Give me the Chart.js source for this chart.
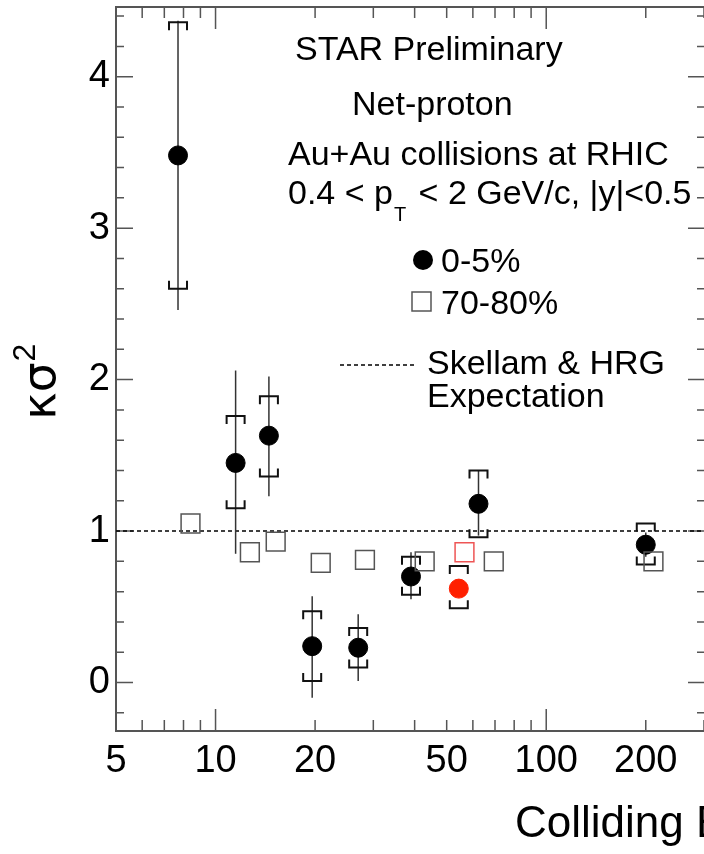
<!DOCTYPE html>
<html>
<head>
<meta charset="utf-8">
<script src="https://cdn.jsdelivr.net/npm/chart.js@4"></script>
<style>
  html, body { margin: 0; padding: 0; background: #fff; overflow: hidden; }
</style>
</head>
<body>
<canvas id="chart" width="704" height="854"></canvas>
<script>
// 0-5% central (black dots)
const energy = [7.7, 11.5, 14.5, 19.6, 27, 39, 62.4, 200];
const central = [3.48, 1.45, 1.63, 0.24, 0.23, 0.70, 1.18, 0.91];
const centralStatLo = [2.46, 0.85, 1.23, -0.10, 0.01, 0.55, 0.97, 0.83];
const centralStatHi = [4.37, 2.06, 2.02, 0.57, 0.45, 0.86, 1.40, 0.99];
const centralSysLo = [2.60, 1.15, 1.36, 0.01, 0.10, 0.58, 0.96, 0.78];
const centralSysHi = [4.36, 1.76, 1.89, 0.47, 0.36, 0.83, 1.40, 1.05];

// 54.4 GeV (red)
const energyRed = [54.4];
const centralRed = [0.62];
const centralRedSysLo = [0.49];
const centralRedSysHi = [0.77];
const periphEnergyRed = [56.6];
const periphRed = [0.86];

// 70-80% peripheral (open squares)
const periphEnergy = [8.4, 12.7, 15.2, 20.8, 28.3, 42.9, 69.4, 211];
const periph = [1.05, 0.86, 0.93, 0.79, 0.81, 0.80, 0.80, 0.80];

// Skellam & HRG expectation
const skellam = 1;

// axes
const xLabels = [5, 10, 20, 50, 100, 200];
const xMajor = [10, 100];
const xMinor = [6, 7, 8, 9, 20, 30, 40, 50, 60, 70, 80, 90, 200, 300];
const yMajor = [0, 1, 2, 3, 4];
const yMinor = [-0.2, 0.2, 0.4, 0.6, 0.8, 1.2, 1.4, 1.6, 1.8, 2.2, 2.4, 2.6, 2.8,
  3.2, 3.4, 3.6, 3.8, 4.2, 4.4];

const FONT = "'Liberation Sans', Arial, sans-serif";

const toPoints = (xs, ys) => xs.map((v, i) => ({ x: v, y: ys[i] }));

function drawErrors(ctx, x, y, xs, statLo, statHi, sysLo, sysHi) {
  xs.forEach((e, i) => {
    const px = x.getPixelForValue(e);
    if (statLo) {
      ctx.strokeStyle = "#333";
      ctx.lineWidth = 1.5;
      ctx.beginPath();
      ctx.moveTo(px, y.getPixelForValue(statLo[i]));
      ctx.lineTo(px, y.getPixelForValue(statHi[i]));
      ctx.stroke();
    }
    const top = y.getPixelForValue(sysHi[i]);
    const bot = y.getPixelForValue(sysLo[i]);
    ctx.strokeStyle = "#111";
    ctx.lineWidth = 2;
    ctx.beginPath();
    ctx.moveTo(px - 9, top + 8); ctx.lineTo(px - 9, top);
    ctx.lineTo(px + 9, top); ctx.lineTo(px + 9, top + 8);
    ctx.moveTo(px - 9, bot - 8); ctx.lineTo(px - 9, bot);
    ctx.lineTo(px + 9, bot); ctx.lineTo(px + 9, bot - 8);
    ctx.stroke();
  });
}

const decorations = {
  id: "decorations",
  beforeDatasetsDraw(chart) {
    const { ctx, chartArea: a } = chart;
    const { x, y } = chart.scales;
    ctx.save();

    // frame
    ctx.strokeStyle = "#555";
    ctx.lineWidth = 2;
    ctx.beginPath();
    ctx.moveTo(a.right + 2, a.top); ctx.lineTo(a.left, a.top);
    ctx.lineTo(a.left, a.bottom); ctx.lineTo(a.right + 2, a.bottom);
    ctx.stroke();

    // ticks, pointing inward
    ctx.lineWidth = 1.5;
    ctx.beginPath();
    yMajor.forEach(v => {
      const py = y.getPixelForValue(v);
      ctx.moveTo(a.left, py); ctx.lineTo(a.left + 17, py);
      ctx.moveTo(a.right, py); ctx.lineTo(a.right - 16, py);
    });
    yMinor.forEach(v => {
      const py = y.getPixelForValue(v);
      ctx.moveTo(a.left, py); ctx.lineTo(a.left + 8, py);
      ctx.moveTo(a.right, py); ctx.lineTo(a.right - 7, py);
    });
    xMajor.forEach(v => {
      const px = x.getPixelForValue(v);
      ctx.moveTo(px, a.bottom); ctx.lineTo(px, a.bottom - 22);
      ctx.moveTo(px, a.top); ctx.lineTo(px, a.top + 22);
    });
    xMinor.forEach(v => {
      const px = x.getPixelForValue(v);
      ctx.moveTo(px, a.bottom); ctx.lineTo(px, a.bottom - 11);
      ctx.moveTo(px, a.top); ctx.lineTo(px, a.top + 11);
    });
    ctx.stroke();

    // expectation line
    const py1 = y.getPixelForValue(skellam);
    ctx.strokeStyle = "#000";
    ctx.lineWidth = 1.5;
    ctx.setLineDash([4, 3]);
    ctx.beginPath();
    ctx.moveTo(a.left, py1); ctx.lineTo(a.right, py1);
    ctx.stroke();
    ctx.setLineDash([]);

    // error bars
    drawErrors(ctx, x, y, energy, centralStatLo, centralStatHi, centralSysLo, centralSysHi);
    drawErrors(ctx, x, y, energyRed, null, null, centralRedSysLo, centralRedSysHi);
    ctx.restore();
  },
  afterDraw(chart) {
    const { ctx } = chart;
    ctx.save();
    ctx.fillStyle = "#000";
    ctx.textBaseline = "alphabetic";
    ctx.textAlign = "left";
    ctx.font = "34px " + FONT;
    ctx.fillText("STAR Preliminary", 295, 60);
    ctx.fillText("Net-proton", 352, 115);
    ctx.fillText("Au+Au collisions at RHIC", 288, 165);

    // 0.4 < pT < 2 GeV/c, |y|<0.5
    let tx = 288;
    ctx.fillText("0.4 < p", tx, 204);
    tx += ctx.measureText("0.4 < p").width;
    ctx.font = "20px " + FONT;
    ctx.fillText("T", tx + 1, 221);
    tx += ctx.measureText("T").width + 4;
    ctx.font = "34px " + FONT;
    ctx.fillText(" < 2 GeV/c, |y|<0.5", tx, 204);

    // legend
    ctx.beginPath();
    ctx.arc(423, 260, 10, 0, Math.PI * 2);
    ctx.fill();
    ctx.fillText("0-5%", 441, 272);
    ctx.strokeStyle = "#555";
    ctx.lineWidth = 1.5;
    ctx.strokeRect(412, 292, 19, 19);
    ctx.fillText("70-80%", 441, 314);
    ctx.strokeStyle = "#000";
    ctx.setLineDash([4, 3]);
    ctx.beginPath();
    ctx.moveTo(340, 365); ctx.lineTo(415, 365);
    ctx.stroke();
    ctx.setLineDash([]);
    ctx.fillText("Skellam & HRG", 427, 374);
    ctx.fillText("Expectation", 427, 407);

    // x title (cut at the right edge)
    ctx.font = "44px " + FONT;
    ctx.fillText("Colliding Energy", 515, 837);

    // y title
    ctx.translate(55, 420);
    ctx.rotate(-Math.PI / 2);
    ctx.font = "47px 'DejaVu Sans'";
    ctx.fillText("κσ", 0, 0);
    const w = ctx.measureText("κσ").width;
    ctx.font = "32px " + FONT;
    ctx.fillText("2", w + 1, -20);
    ctx.restore();
  }
};

new Chart(document.getElementById("chart"), {
  type: "scatter",
  data: {
    datasets: [
      {
        label: "70-80%",
        data: toPoints(periphEnergy, periph),
        pointStyle: "rect",
        pointRadius: 13.3,
        backgroundColor: "rgba(0,0,0,0)",
        borderColor: "#555",
        borderWidth: 1.5
      },
      {
        label: "70-80% (54.4)",
        data: toPoints(periphEnergyRed, periphRed),
        pointStyle: "rect",
        pointRadius: 13.3,
        backgroundColor: "rgba(0,0,0,0)",
        borderColor: "#ee5555",
        borderWidth: 1.5
      },
      {
        label: "0-5%",
        data: toPoints(energy, central),
        pointStyle: "circle",
        pointRadius: 9.5,
        backgroundColor: "#000",
        borderColor: "#000",
        borderWidth: 1
      },
      {
        label: "0-5% (54.4)",
        data: toPoints(energyRed, centralRed),
        pointStyle: "circle",
        pointRadius: 9.5,
        backgroundColor: "#ff2000",
        borderColor: "#ff2000",
        borderWidth: 1
      }
    ]
  },
  options: {
    responsive: false,
    devicePixelRatio: 1,
    animation: false,
    layout: { autoPadding: false, padding: { top: 7, right: 0, left: 0, bottom: 0 } },
    plugins: { legend: { display: false }, tooltip: { enabled: false } },
    scales: {
      x: {
        type: "logarithmic",
        min: 5,
        max: 300,
        grid: { display: false, drawTicks: false },
        border: { display: false },
        afterBuildTicks: s => { s.ticks = xLabels.map(v => ({ value: v })); },
        afterFit: s => {
          s.height = 854 - 731;
          s.paddingLeft = 0;
          s.paddingRight = 0;
        },
        ticks: {
          autoSkip: false,
          maxRotation: 0,
          padding: 8,
          color: "#000",
          font: { family: FONT, size: 38 },
          callback: v => String(v)
        }
      },
      y: {
        min: -0.32,
        max: 4.46,
        grid: { display: false, drawTicks: false },
        border: { display: false },
        afterBuildTicks: s => { s.ticks = yMajor.map(v => ({ value: v })); },
        afterFit: s => {
          s.width = 116;
          s.paddingTop = 0;
          s.paddingBottom = 0;
        },
        ticks: {
          padding: 6,
          color: "#000",
          font: { family: FONT, size: 38 },
          callback: v => String(v)
        }
      }
    }
  },
  plugins: [decorations]
});
</script>
</body>
</html>
